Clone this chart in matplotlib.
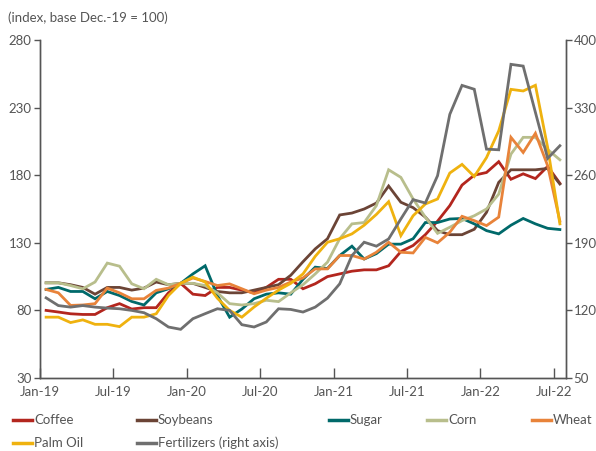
import matplotlib
matplotlib.use("Agg")
import matplotlib.pyplot as plt
from matplotlib.lines import Line2D
import numpy as np

plt.rcParams['font.family'] = ['Lato', 'DejaVu Sans']

# monthly index values, Jan-19 .. Jul-22 (base Dec-19 = 100)
months = ['Jan-19', 'Jul-19', 'Jan-20', 'Jul-20', 'Jan-21', 'Jul-21', 'Jan-22', 'Jul-22']

coffee = [80, 78.8, 77.5, 77, 77, 82, 85, 81, 82, 82, 93, 100,
          92, 91, 97, 97, 95, 93, 97, 103, 103, 96, 99.7, 105,
          107, 109, 110, 110, 113, 123.5, 128, 136, 146, 157.5, 172.7, 180,
          182, 190, 177, 181, 177.5, 186.5, 174]
soybeans = [100.4, 100.4, 99, 97, 92, 97, 97, 95, 96.5, 101, 99, 100,
            100, 97, 94, 93, 93, 95, 97, 99, 106, 116, 125.5, 133,
            150.6, 152, 155, 159.4, 172, 160, 156, 149, 139, 136, 136, 140,
            152.5, 174.7, 184, 184, 184, 185, 173.5]
sugar = [95.5, 97, 94, 94, 88.6, 94, 91, 86.6, 84, 93, 96, 100,
         107, 113, 91, 75, 81, 88.6, 92, 93, 92, 103, 112, 111,
         120.6, 127.5, 118, 122, 129, 129, 133, 145, 145, 147.6, 148, 144,
         139, 136.6, 143, 148, 144, 140.7, 139.8]
corn = [100.4, 100.4, 98.4, 96, 101, 115, 112.7, 99.7, 96, 103, 99, 100,
        100, 98.4, 93, 85, 84, 85, 87.5, 86.5, 93, 99, 107, 115.7,
        133, 144, 145, 157.5, 184, 178.4, 162.4, 149, 137, 141.5, 146.4, 150,
        155, 166, 195.6, 208, 208, 199, 191.4]
wheat = [95.5, 93, 83.7, 84, 85, 96.5, 93, 88.6, 88.6, 94.8, 96.5, 100,
         104, 101.4, 98.4, 99.6, 96, 92.3, 95, 97, 101, 104, 110.7, 110.7,
         120.6, 120.6, 118, 123, 130.4, 123, 122.5, 134, 130, 137.8, 149.6, 146.4,
         142.7, 149, 208, 196.8, 211, 187, 146]
palm_oil = [75, 75, 71, 73, 69.7, 69.7, 68, 75, 75, 77.5, 91, 100,
            104.6, 101, 89, 80, 75, 82.5, 89, 95, 100, 107, 120, 130.4,
            133, 136.6, 143, 151, 160.4, 135.3, 150, 158.7, 162.4, 181.6, 188, 179,
            193, 212.8, 243.5, 242.3, 246.5, 200.5, 144]
fertilizers = [133, 125, 123.4, 125, 123.4, 122.4, 121.7, 120, 117.6, 111.4, 102.8, 100.4,
               111.4, 116.6, 121.7, 120, 105.2, 102.8, 108, 121.7, 121, 118.3, 123.4, 132.7,
               147.5, 176.8, 190.6, 186.5, 194, 214.7, 234.7, 231.2, 259.5, 323, 353, 349,
               287, 286.3, 374.8, 373, 325, 277.4, 290.5]

names = ['Coffee', 'Soybeans', 'Sugar', 'Corn', 'Wheat', 'Palm Oil']
series = [coffee, soybeans, sugar, corn, wheat, palm_oil]
colors = ['#B3261E', '#6B4436', '#00696A', '#B8BE8C', '#E8833A', '#EFB20F']
fert_color = '#6F6F6F'
txt = '#555555'

x = np.arange(len(coffee)) + 0.5

fig = plt.figure(figsize=(5.96, 4.51), dpi=100)
ax = fig.add_axes([40 / 596, 1 - 378 / 451, 526 / 596, 338 / 451])
ax2 = ax.twinx()

for name, vals, c in zip(names, series, colors):
    ax.plot(x, vals, color=c, lw=2.0, solid_joinstyle='miter')
ax2.plot(x, fertilizers, color=fert_color, lw=2.0, solid_joinstyle='miter')

ax.set_xlim(0, 43)
ax.set_ylim(30, 280)
ax2.set_ylim(50, 400)
ax.set_yticks([30, 80, 130, 180, 230, 280])
ax2.set_yticks([50, 120, 190, 260, 330, 400])
ax.set_xticks(np.arange(0, 43, 6))
ax.set_xticklabels(months)

for a in (ax, ax2):
    a.spines['top'].set_visible(False)
    for s in ('left', 'right', 'bottom'):
        a.spines[s].set_color(txt)
        a.spines[s].set_linewidth(1.0)
    a.tick_params(colors=txt, labelcolor=txt, labelsize=9.5, width=1.0, length=4)
ax.tick_params(axis='x', direction='in', length=7, pad=6)
ax.tick_params(axis='y', pad=2)
ax2.tick_params(axis='y', pad=1.5)

fig.text(8 / 596, 1 - 18 / 451, '(index, base Dec.-19 = 100)', color=txt,
         fontsize=9.5, va='center', ha='left')

# legend laid out by hand to follow the uneven columns
leg_items = [('Coffee', colors[0], 13, 420), ('Soybeans', colors[1], 137, 420),
             ('Sugar', colors[2], 329, 420), ('Corn', colors[3], 427, 420),
             ('Wheat', colors[4], 532, 420), ('Palm Oil', colors[5], 13, 443),
             ('Fertilizers (right axis)', fert_color, 137, 443)]
for label, c, px, py in leg_items:
    fy = 1 - py / 451
    fig.add_artist(Line2D([px / 596, (px + 19) / 596], [fy, fy], color=c, lw=2.5,
                          transform=fig.transFigure))
    fig.text((px + 21) / 596, fy, label, color=txt, fontsize=9.5, va='center', ha='left')

fig.savefig('out.png', dpi=100)
